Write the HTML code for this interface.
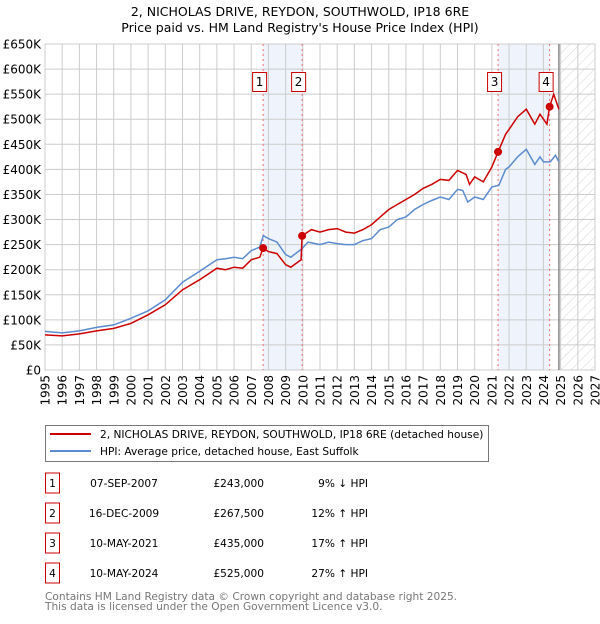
<!DOCTYPE html>
<html><head><meta charset="utf-8"><style>
body{margin:0;background:#fff;width:600px;height:620px;overflow:hidden;font-family:"DejaVu Sans","Liberation Sans",sans-serif}
svg text{font-family:"DejaVu Sans","Liberation Sans",sans-serif}
</style></head><body>
<svg id="c" width="600" height="620" xmlns="http://www.w3.org/2000/svg">
<defs><pattern id="hatch" width="7" height="7" patternUnits="userSpaceOnUse" patternTransform="rotate(45)"><line x1="0" y1="0" x2="0" y2="7" stroke="#ccc" stroke-width="0.8"/></pattern></defs>
<text x="300" y="16" text-anchor="middle" font-size="12.5">2, NICHOLAS DRIVE, REYDON, SOUTHWOLD, IP18 6RE</text>
<text x="300" y="32" text-anchor="middle" font-size="12.5">Price paid vs. HM Land Registry's House Price Index (HPI)</text>
<g id="plot"></g>
<g>
<rect x="45.5" y="425.5" width="443" height="36" fill="#fff" stroke="#777"/>
<line x1="50" y1="434" x2="91" y2="434" stroke="#cc0000" stroke-width="2"/>
<text x="100" y="438" font-size="10.6">2, NICHOLAS DRIVE, REYDON, SOUTHWOLD, IP18 6RE (detached house)</text>
<line x1="50" y1="451" x2="91" y2="451" stroke="#5b8ccf" stroke-width="2"/>
<text x="100" y="455" font-size="10.6">HPI: Average price, detached house, East Suffolk</text>
</g>
<g id="tbl" font-size="10.6"></g>
<text x="45" y="600" font-size="10.6" fill="#777">Contains HM Land Registry data © Crown copyright and database right 2025.</text>
<text x="45" y="610" font-size="10.6" fill="#777">This data is licensed under the Open Government Licence v3.0.</text>
</svg>
<script>
const hpiYears=[1995,1996,1997,1998,1999,2000,2001,2002,2003,2004,2005,2005.5,2006,2006.5,2007,2007.5,2007.7,2008,2008.5,2009,2009.3,2009.96,2010.3,2011,2011.5,2012,2012.5,2013,2013.5,2014,2014.5,2015,2015.5,2016,2016.5,2017,2017.5,2018,2018.5,2019,2019.3,2019.6,2020,2020.5,2021,2021.4,2021.8,2022,2022.5,2023,2023.5,2023.8,2024,2024.4,2024.7,2024.9];
const hpiValues=[77,74,78,85,90,103,118,140,175,197,220,222,225,222,238,245,268,262,255,230,225,242,255,250,255,252,250,250,258,262,280,285,300,305,320,330,338,345,340,360,358,335,345,340,365,368,400,405,425,440,410,425,415,415,428,415];
const redYears=[1995,1996,1997,1998,1999,2000,2001,2002,2003,2004,2005,2005.5,2006,2006.5,2007,2007.5,2007.69,2008,2008.5,2009,2009.3,2009.9,2009.96,2010.5,2011,2011.5,2012,2012.5,2013,2013.5,2014,2014.5,2015,2015.5,2016,2016.5,2017,2017.5,2018,2018.5,2019,2019.5,2019.7,2020,2020.5,2021,2021.36,2021.8,2022,2022.5,2023,2023.5,2023.8,2024.2,2024.36,2024.6,2024.9];
const redValues=[70,68,72,78,83,93,110,130,160,180,203,200,205,203,220,225,243,236,232,210,205,220,267.5,280,275,280,282,275,273,280,290,305,320,330,340,350,362,370,380,378,398,390,370,385,375,405,435,470,480,505,520,490,510,490,525,550,520];
const saleLabels=["1","2","3","4"];
const saleYears=[2007.69,2009.96,2021.36,2024.36];
const salePrices=[243,267.5,435,525];
const saleDates=["07-SEP-2007","16-DEC-2009","10-MAY-2021","10-MAY-2024"];
const salePriceText=["£243,000","£267,500","£435,000","£525,000"];
const saleHpiText=["9% ↓ HPI","12% ↑ HPI","17% ↑ HPI","27% ↑ HPI"];
const yTicks=[0,50,100,150,200,250,300,350,400,450,500,550,600,650];
const xTicks=[1995,1996,1997,1998,1999,2000,2001,2002,2003,2004,2005,2006,2007,2008,2009,2010,2011,2012,2013,2014,2015,2016,2017,2018,2019,2020,2021,2022,2023,2024,2025,2026,2027];
const X0=45,X1=595,Y0=370,Y1=44,xmin=1995,xmax=2027,ymax=650,dataEnd=2024.9;
const sx=v=>X0+(v-xmin)/(xmax-xmin)*(X1-X0);
const sy=v=>Y0-v/ymax*(Y0-Y1);
const NS="http://www.w3.org/2000/svg";
const plot=document.getElementById('plot');
function mk(tag,attrs,parent){const e=document.createElementNS(NS,tag);for(const k in attrs)e.setAttribute(k,attrs[k]);(parent||plot).appendChild(e);return e;}
let r=mk('rect',{x:sx(saleYears[0]),y:Y1,width:sx(saleYears[1])-sx(saleYears[0]),height:Y0-Y1,fill:'#eef3fc'});


r=mk('rect',{x:sx(saleYears[2]),y:Y1,width:sx(saleYears[3])-sx(saleYears[2]),height:Y0-Y1,fill:'#eef3fc'});


r=mk('rect',{x:sx(dataEnd),y:Y1,width:X1-sx(dataEnd),height:Y0-Y1,fill:'url(#hatch)'});


yTicks.forEach(t=>{mk('line',{x1:X0,x2:X1,y1:sy(t),y2:sy(t),stroke:'#ccc'});
 const tx=mk('text',{x:X0-4,y:sy(t)+4.5,'text-anchor':'end','font-size':'12'});tx.textContent=t===0?'£0':'£'+t+'K';
 
 });
xTicks.forEach(t=>{mk('line',{x1:sx(t),x2:sx(t),y1:Y1,y2:Y0,stroke:'#ccc'});
 const tx=mk('text',{x:0,y:0,'font-size':'12','text-anchor':'end',transform:`translate(${sx(t)+4.5},${Y0+5}) rotate(-90)`});tx.textContent=t;
 
 });
mk('rect',{x:X0,y:Y1,width:X1-X0,height:Y0-Y1,fill:'none',stroke:'#ccc'});
mk('line',{x1:sx(dataEnd),x2:sx(dataEnd),y1:Y1,y2:Y0,stroke:'#888','stroke-width':1.5});
saleYears.forEach((y,i)=>{mk('line',{x1:sx(y),x2:sx(y),y1:Y1,y2:Y0,stroke:'#f07070','stroke-dasharray':'2,3'});
 const b=mk('rect',{x:sx(y)-10.5,y:72.5,width:14,height:19,fill:'#fff',stroke:'#cc0000'});
 
 
 const t=mk('text',{x:sx(y)-3.5,y:86,'text-anchor':'middle','font-size':'12'});t.textContent=saleLabels[i];});
const path=(xs,vs)=>xs.map((x,i)=>(i?'L':'M')+sx(x).toFixed(1)+','+sy(vs[i]).toFixed(1)).join('');
let p=mk('path',{d:path(hpiYears,hpiValues),fill:'none',stroke:'#5b8ccf','stroke-width':1.5});


p=mk('path',{d:path(redYears,redValues),fill:'none',stroke:'#cc0000','stroke-width':1.5});


saleYears.forEach((y,i)=>{const c=mk('circle',{cx:sx(y),cy:sy(salePrices[i]),r:4,fill:'#cc0000'});
 
 });
const tbl=document.getElementById('tbl');
saleLabels.forEach((l,i)=>{const cy=483+i*30;
 mk('rect',{x:45.5,y:cy-10,width:14,height:20,fill:'#fff',stroke:'#cc0000'},tbl);
 const cells=[[52.5,'middle',l],[124,'middle',saleDates[i]],[264,'end',salePriceText[i]],[368,'end',saleHpiText[i]]];
 cells.forEach((c,j)=>{const t=mk('text',{x:c[0],y:cy+4,'text-anchor':c[1]},tbl);t.textContent=c[2];
  
  });});
</script>
</body></html>
